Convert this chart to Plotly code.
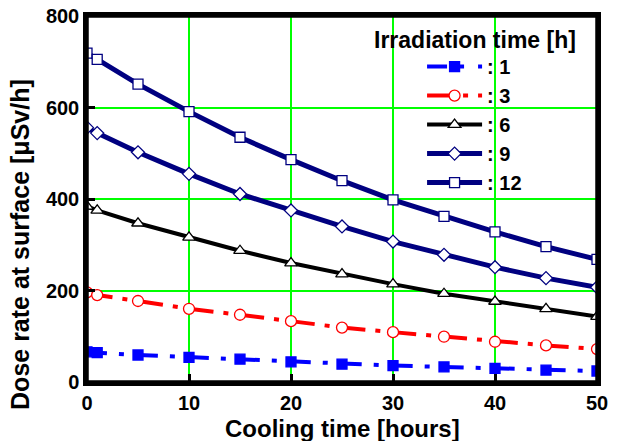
import plotly.graph_objects as go

cooling_time = [0, 1, 5, 10, 15, 20, 25, 30, 35, 40, 45, 50]
dose_1h = [66, 64, 59, 54, 50, 44, 39, 36, 33, 30, 26, 24]
dose_3h = [196, 190, 177, 160, 147, 133, 119, 109, 99, 88, 80, 72]
dose_6h = [384, 375, 347, 316, 287, 260, 236, 214, 193, 176, 160, 143]
dose_9h = [556, 544, 502, 455, 411, 375, 340, 307, 278, 251, 227, 207]
dose_12h = [719, 705, 651, 591, 535, 486, 440, 398, 362, 328, 296, 268]

legend_names = [": 1", ": 3", ": 6", ": 9", ": 12"]
legend_title = "Irradiation time [h]"
x_title = "Cooling time [hours]"
y_title = "Dose rate at surface [μSv/h]"
x_ticks = [0, 10, 20, 30, 40, 50]
y_ticks = [0, 200, 400, 600, 800]
x_range = [0, 50]
y_range = [0, 800]

FONT = "Liberation Sans, Arial, sans-serif"

styles = [
    dict(data=dose_1h, color="#0000FF", dash="20px,12px,5px,14px", width=4,
         symbol="square", fill="#0000FF", size=10),
    dict(data=dose_3h, color="#FF0000", dash="26px,10px,5px,10px", width=4,
         symbol="circle", fill="#FFFFFF", size=11),
    dict(data=dose_6h, color="#000000", dash="solid", width=4,
         symbol="triangle-up", fill="#FFFFFF", size=11),
    dict(data=dose_9h, color="#000080", dash="solid", width=5,
         symbol="diamond", fill="#FFFFFF", size=10),
    dict(data=dose_12h, color="#000080", dash="solid", width=5,
         symbol="square", fill="#FFFFFF", size=10),
]

fig = go.Figure()
for name, s in zip(legend_names, styles):
    fig.add_trace(go.Scatter(
        x=cooling_time, y=s["data"], name="<b>" + name + "</b>", mode="lines+markers",
        line=dict(color=s["color"], width=s["width"], dash=s["dash"]),
        marker=dict(symbol=s["symbol"], size=s["size"], color=s["fill"],
                    line=dict(color=s["color"], width=1.3)),
    ))

# plot-area frame drawn along the axis ranges
x0, x1 = x_range
y0, y1 = y_range
fig.add_trace(go.Scatter(
    x=[x0, x1, x1, x0, x0], y=[y0, y0, y1, y1, y0], mode="lines",
    line=dict(color="black", width=3.5), showlegend=False,
    hoverinfo="skip", cliponaxis=False,
))

axis_style = dict(
    showline=True, linecolor="rgb(0,0,0)", linewidth=3.5, mirror=True,
    showgrid=True, gridcolor="rgb(0,255,0)", gridwidth=1.5,
    ticks="inside", ticklen=8, tickwidth=2.5, tickcolor="rgb(0,0,0)",
    zeroline=False,
    tickfont=dict(family=FONT, size=20, color="black"),
)

fig.update_layout(
    template="none",
    width=619, height=441,
    margin=dict(l=87, r=22, t=16, b=59),
    paper_bgcolor="white", plot_bgcolor="white",
    font=dict(family=FONT, color="black"),
    legend=dict(
        x=0.657, xanchor="left", y=0.915, yanchor="top",
        bgcolor="rgba(0,0,0,0)", borderwidth=0,
        font=dict(family=FONT, size=20, color="black"),
        itemwidth=55, tracegroupgap=0,
    ),
    xaxis=dict(range=x_range, tickmode="array", tickvals=x_ticks,
               ticktext=["<b>%d</b>" % v for v in x_ticks],
               ticklabelstandoff=0, **axis_style),
    yaxis=dict(range=y_range, tickmode="array", tickvals=y_ticks,
               ticktext=["<b>%d</b>" % v for v in y_ticks],
               **axis_style),
    showlegend=True,
    annotations=[
        dict(text="<b>" + legend_title + "</b>", xref="paper", yref="paper",
             x=0.761, y=0.934, xanchor="center", yanchor="middle", showarrow=False,
             font=dict(family=FONT, size=23, color="black")),
        dict(text="<b>" + x_title + "</b>", xref="paper", yref="paper",
             x=0.5, y=-0.085, xanchor="center", yanchor="top", showarrow=False,
             font=dict(family=FONT, size=24, color="black")),
        dict(text="<b>" + y_title + "</b>", xref="paper", yref="paper",
             x=-0.131, y=0.375, xanchor="center", yanchor="middle", showarrow=False,
             textangle=-90, font=dict(family=FONT, size=25, color="black")),
    ],
)

fig.write_html(
    "out.html",
    config={"displayModeBar": False},
    post_script="document.body.style.margin='0';document.body.style.padding='0';",
)
